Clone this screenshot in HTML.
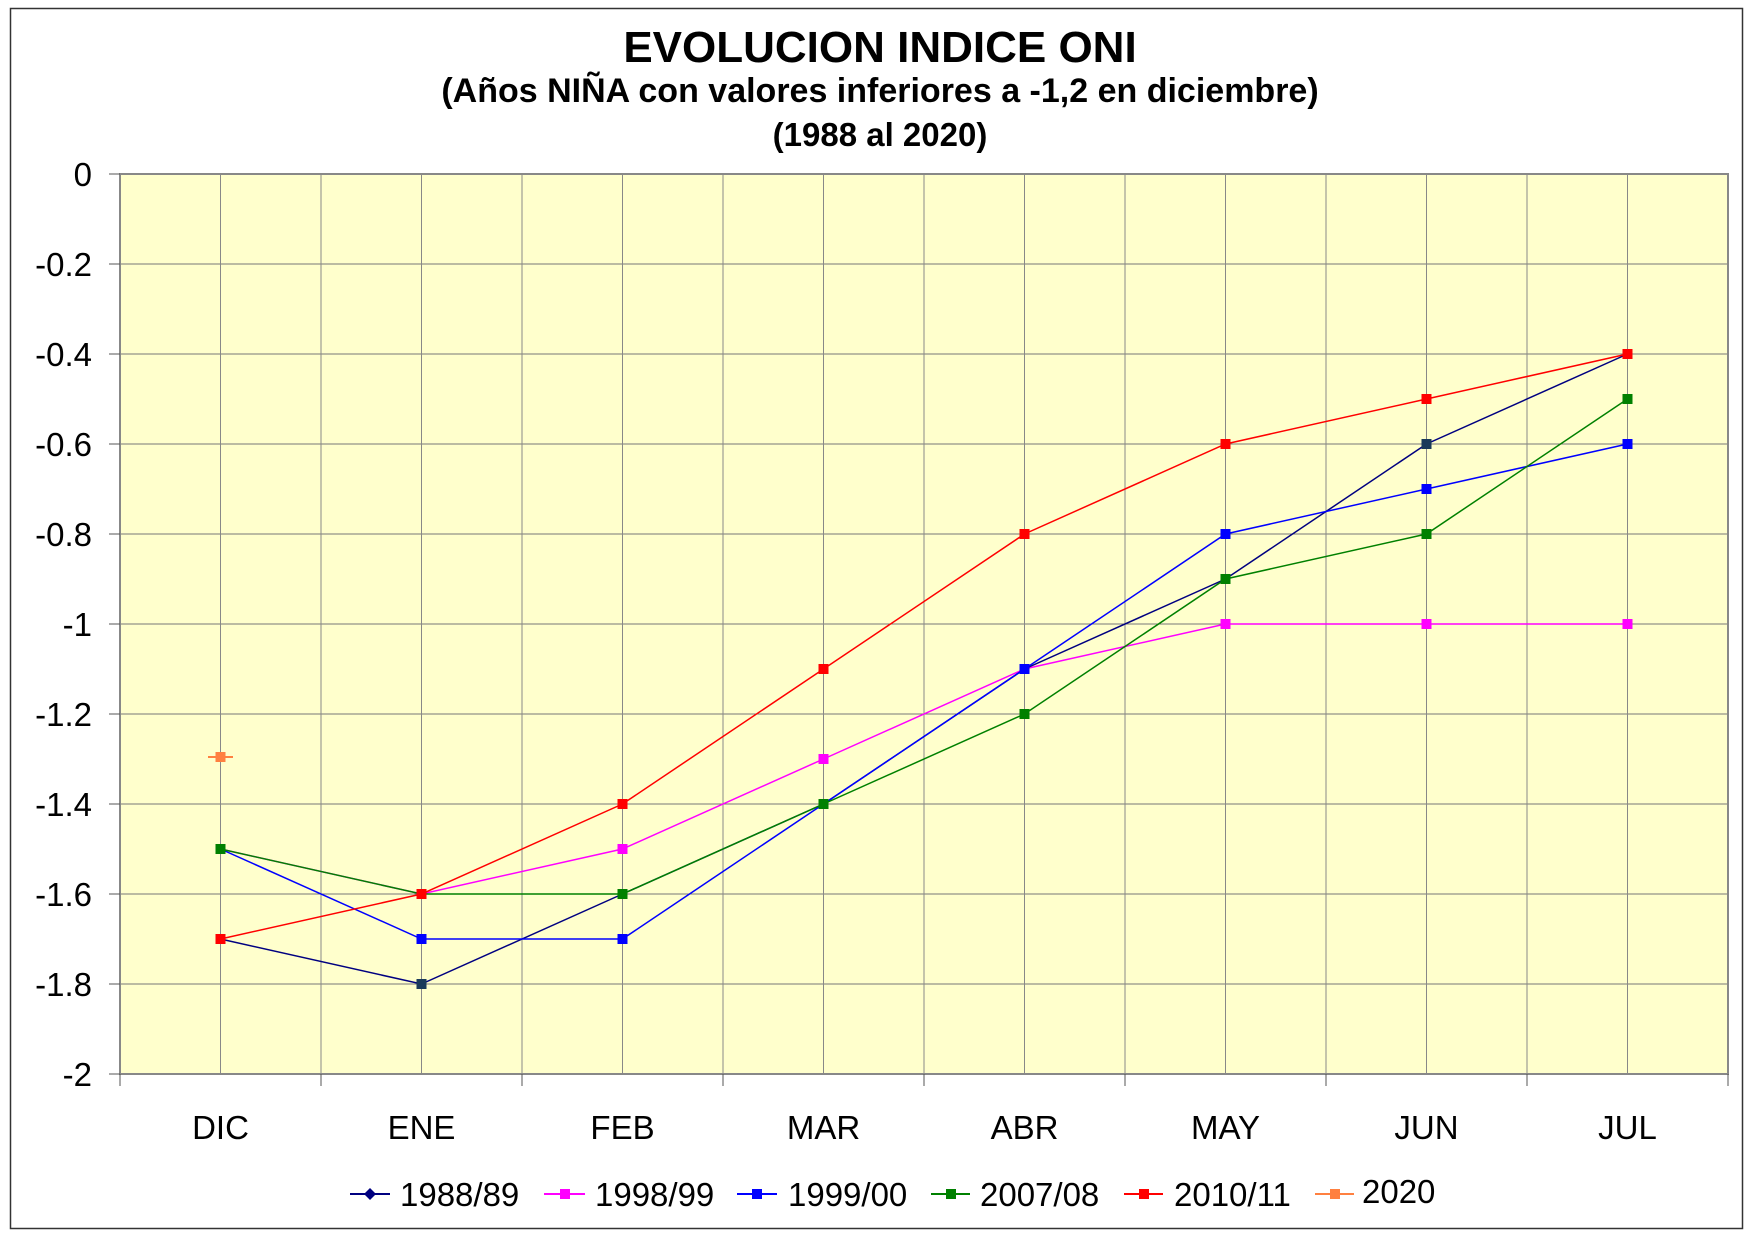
<!DOCTYPE html>
<html><head><meta charset="utf-8"><style>body{margin:0;background:#fff}svg{display:block}text{font-family:"Liberation Sans",Arial,sans-serif}</style></head>
<body>
<svg width="1754" height="1240" viewBox="0 0 1754 1240" xmlns="http://www.w3.org/2000/svg">
<rect x="10.5" y="8.5" width="1732" height="1220" fill="#fff" stroke="#333" stroke-width="1.5"/>
<text x="880" y="62" font-size="44" font-weight="bold" text-anchor="middle">EVOLUCION INDICE ONI</text>
<text x="880" y="102" font-size="34" font-weight="bold" text-anchor="middle">(Años NIÑA con valores inferiores a -1,2 en diciembre)</text>
<text x="880" y="146" font-size="33" font-weight="bold" text-anchor="middle">(1988 al 2020)</text>
<rect x="120" y="174" width="1608" height="900" fill="#ffffcc"/>
<g stroke="#777" stroke-width="1">
<line x1="120" y1="264" x2="1728" y2="264"/><line x1="120" y1="354" x2="1728" y2="354"/><line x1="120" y1="444" x2="1728" y2="444"/><line x1="120" y1="534" x2="1728" y2="534"/><line x1="120" y1="624" x2="1728" y2="624"/><line x1="120" y1="714" x2="1728" y2="714"/><line x1="120" y1="804" x2="1728" y2="804"/><line x1="120" y1="894" x2="1728" y2="894"/><line x1="120" y1="984" x2="1728" y2="984"/>
</g>
<g stroke="#888" stroke-width="1">
<line x1="220.5" y1="174" x2="220.5" y2="1074"/><line x1="321" y1="174" x2="321" y2="1074"/><line x1="421.5" y1="174" x2="421.5" y2="1074"/><line x1="522" y1="174" x2="522" y2="1074"/><line x1="622.5" y1="174" x2="622.5" y2="1074"/><line x1="723" y1="174" x2="723" y2="1074"/><line x1="823.5" y1="174" x2="823.5" y2="1074"/><line x1="924" y1="174" x2="924" y2="1074"/><line x1="1024.5" y1="174" x2="1024.5" y2="1074"/><line x1="1125" y1="174" x2="1125" y2="1074"/><line x1="1225.5" y1="174" x2="1225.5" y2="1074"/><line x1="1326" y1="174" x2="1326" y2="1074"/><line x1="1426.5" y1="174" x2="1426.5" y2="1074"/><line x1="1527" y1="174" x2="1527" y2="1074"/><line x1="1627.5" y1="174" x2="1627.5" y2="1074"/>
</g>
<rect x="120" y="174" width="1608" height="900" fill="none" stroke="#888" stroke-width="2"/>
<g stroke="#555" stroke-width="1">
<line x1="109" y1="174" x2="120" y2="174"/><line x1="109" y1="264" x2="120" y2="264"/><line x1="109" y1="354" x2="120" y2="354"/><line x1="109" y1="444" x2="120" y2="444"/><line x1="109" y1="534" x2="120" y2="534"/><line x1="109" y1="624" x2="120" y2="624"/><line x1="109" y1="714" x2="120" y2="714"/><line x1="109" y1="804" x2="120" y2="804"/><line x1="109" y1="894" x2="120" y2="894"/><line x1="109" y1="984" x2="120" y2="984"/><line x1="109" y1="1074" x2="120" y2="1074"/>
<line x1="120" y1="1074" x2="120" y2="1086"/><line x1="321" y1="1074" x2="321" y2="1086"/><line x1="522" y1="1074" x2="522" y2="1086"/><line x1="723" y1="1074" x2="723" y2="1086"/><line x1="924" y1="1074" x2="924" y2="1086"/><line x1="1125" y1="1074" x2="1125" y2="1086"/><line x1="1326" y1="1074" x2="1326" y2="1086"/><line x1="1527" y1="1074" x2="1527" y2="1086"/><line x1="1728" y1="1074" x2="1728" y2="1086"/>
</g>
<g font-size="33" text-anchor="end">
<text x="92" y="186">0</text><text x="92" y="276">-0.2</text><text x="92" y="366">-0.4</text><text x="92" y="456">-0.6</text><text x="92" y="546">-0.8</text><text x="92" y="636">-1</text><text x="92" y="726">-1.2</text><text x="92" y="816">-1.4</text><text x="92" y="906">-1.6</text><text x="92" y="996">-1.8</text><text x="92" y="1086">-2</text>
</g>
<g font-size="33" text-anchor="middle">
<text x="220.5" y="1139">DIC</text><text x="421.5" y="1139">ENE</text><text x="622.5" y="1139">FEB</text><text x="823.5" y="1139">MAR</text><text x="1024.5" y="1139">ABR</text><text x="1225.5" y="1139">MAY</text><text x="1426.5" y="1139">JUN</text><text x="1627.5" y="1139">JUL</text>
</g>
<polyline fill="none" stroke="#ff00ff" stroke-width="1.5" points="220.5,849 421.5,894 622.5,849 823.5,759 1024.5,669 1225.5,624 1426.5,624 1627.5,624"/>
<polyline fill="none" stroke="#000080" stroke-width="1.5" points="220.5,939 421.5,984 622.5,894 823.5,804 1024.5,669 1225.5,579 1426.5,444 1627.5,354"/>
<polyline fill="none" stroke="#0000ff" stroke-width="1.5" points="220.5,849 421.5,939 622.5,939 823.5,804 1024.5,669 1225.5,534 1426.5,489 1627.5,444"/>
<polyline fill="none" stroke="#008000" stroke-width="1.5" points="220.5,849 421.5,894 622.5,894 823.5,804 1024.5,714 1225.5,579 1426.5,534 1627.5,399"/>
<polyline fill="none" stroke="#ff0000" stroke-width="1.5" points="220.5,939 421.5,894 622.5,804 823.5,669 1024.5,534 1225.5,444 1426.5,399 1627.5,354"/>
<g fill="#ff00ff"><rect x="215.5" y="844" width="10" height="10"/><rect x="416.5" y="889" width="10" height="10"/><rect x="617.5" y="844" width="10" height="10"/><rect x="818.5" y="754" width="10" height="10"/><rect x="1019.5" y="664" width="10" height="10"/><rect x="1220.5" y="619" width="10" height="10"/><rect x="1421.5" y="619" width="10" height="10"/><rect x="1622.5" y="619" width="10" height="10"/></g>
<g fill="#0000ff"><rect x="215.5" y="844" width="10" height="10"/><rect x="416.5" y="934" width="10" height="10"/><rect x="617.5" y="934" width="10" height="10"/><rect x="818.5" y="799" width="10" height="10"/><rect x="1019.5" y="664" width="10" height="10"/><rect x="1220.5" y="529" width="10" height="10"/><rect x="1421.5" y="484" width="10" height="10"/><rect x="1622.5" y="439" width="10" height="10"/></g>
<g fill="#008000"><rect x="215.5" y="844" width="10" height="10"/><rect x="416.5" y="889" width="10" height="10"/><rect x="617.5" y="889" width="10" height="10"/><rect x="818.5" y="799" width="10" height="10"/><rect x="1019.5" y="709" width="10" height="10"/><rect x="1220.5" y="574" width="10" height="10"/><rect x="1421.5" y="529" width="10" height="10"/><rect x="1622.5" y="394" width="10" height="10"/></g>
<g fill="#1a3a5a"><rect x="416.5" y="979" width="10" height="10"/><rect x="1421.5" y="439" width="10" height="10"/></g>
<g fill="#ff0000"><rect x="215.5" y="934" width="10" height="10"/><rect x="416.5" y="889" width="10" height="10"/><rect x="617.5" y="799" width="10" height="10"/><rect x="818.5" y="664" width="10" height="10"/><rect x="1019.5" y="529" width="10" height="10"/><rect x="1220.5" y="439" width="10" height="10"/><rect x="1421.5" y="394" width="10" height="10"/><rect x="1622.5" y="349" width="10" height="10"/></g>
<line x1="208" y1="757" x2="233" y2="757" stroke="#ff8040" stroke-width="2"/>
<rect x="215.5" y="752" width="10" height="10" fill="#ff8040"/>
<g font-size="33">
<line x1="350" y1="1194" x2="390" y2="1194" stroke="#000080" stroke-width="2"/><polygon points="370,1188 376,1194 370,1200 364,1194" fill="#000080"/><text x="400" y="1206">1988/89</text>
<line x1="544" y1="1194" x2="585" y2="1194" stroke="#ff00ff" stroke-width="2"/><rect x="560" y="1189" width="10" height="10" fill="#ff00ff"/><text x="595" y="1206">1998/99</text>
<line x1="737" y1="1194" x2="777" y2="1194" stroke="#0000ff" stroke-width="2"/><rect x="752" y="1189" width="10" height="10" fill="#0000ff"/><text x="788" y="1206">1999/00</text>
<line x1="931" y1="1194" x2="970" y2="1194" stroke="#008000" stroke-width="2"/><rect x="946" y="1189" width="10" height="10" fill="#008000"/><text x="980" y="1206">2007/08</text>
<line x1="1124" y1="1194" x2="1163" y2="1194" stroke="#ff0000" stroke-width="2"/><rect x="1139" y="1189" width="10" height="10" fill="#ff0000"/><text x="1174" y="1206">2010/11</text>
<line x1="1315" y1="1194" x2="1354" y2="1194" stroke="#ff8040" stroke-width="2"/><rect x="1330" y="1189" width="10" height="10" fill="#ff8040"/><text x="1362" y="1203">2020</text>
</g>
</svg>
</body></html>
